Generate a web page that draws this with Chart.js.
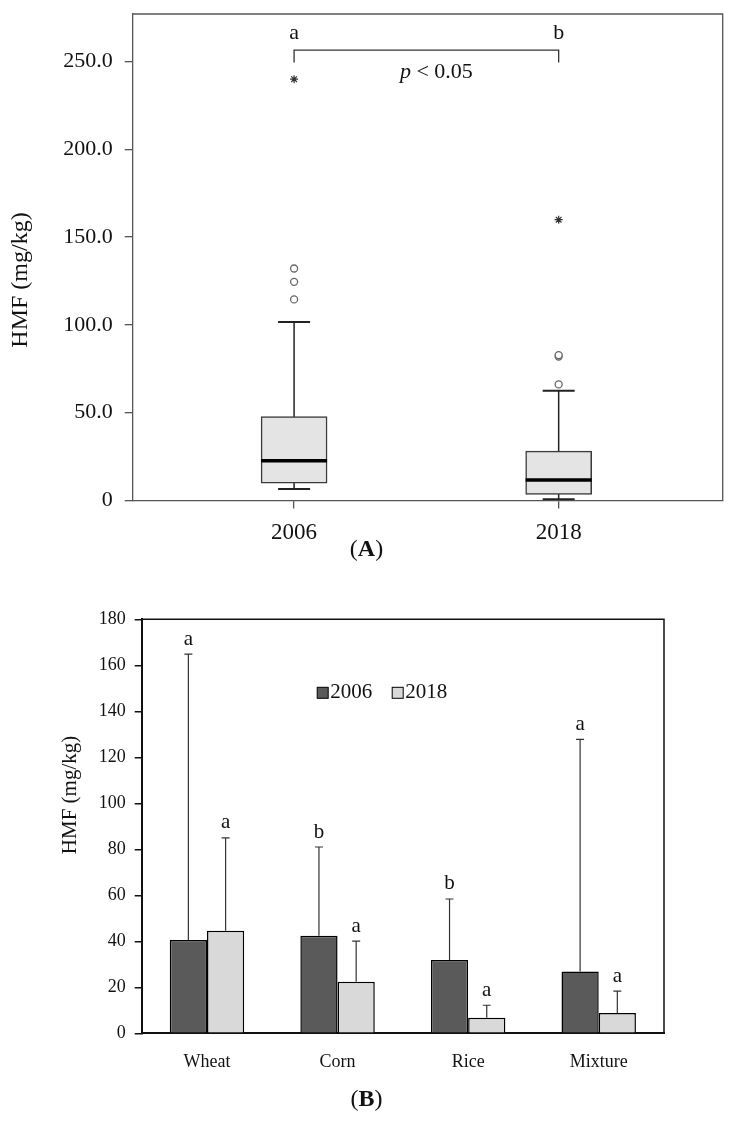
<!DOCTYPE html>
<html>
<head>
<meta charset="utf-8">
<script src="https://cdn.jsdelivr.net/npm/chart.js@4.4.0/dist/chart.umd.min.js"></script>
<style>
  body { margin: 0; background: #fff; width: 733px; height: 1126px; position: relative; overflow: hidden; }
  .wrap { position: absolute; left: 0; }
  .cap { position: absolute; left: 0; width: 733px; text-align: center; color: #111;
         font-family: "Liberation Serif", "Times New Roman", serif; font-size: 24px; line-height: 28px; }
</style>
</head>
<body>
<div class="wrap" style="top:0"><canvas id="boxChart" width="733" height="545"></canvas></div>
<div class="cap" style="top:534px">(<b>A</b>)</div>
<div class="wrap" style="top:560px"><canvas id="barChart" width="733" height="525"></canvas></div>
<div class="cap" style="top:1084px">(<b>B</b>)</div>
<script>
// --- panel A: box plot by year
const years = ["2006", "2018"];
const whiskerLow = [6.6, 0.7];
const q1 = [9.8, 3.5];
const medians = [22.7, 11.7];
const q3 = [47.8, 28.1];
const whiskerHigh = [101.7, 62.5];
const outliers = [[114.5, 124.5, 132.1], [66.1, 82.0, 82.8]];
const extremes = [[239.9], [159.9]];
const yearLetters = ["a", "b"];
const bracketLow = 249.4;
const bracketHigh = 256.4;
const yTicksA = [0, 50, 100, 150, 200, 250];
const yLabelsA = ["0", "50.0", "100.0", "150.0", "200.0", "250.0"];

// --- panel B: mean + SD by grain
const grains = ["Wheat", "Corn", "Rice", "Mixture"];
const mean2006 = [40.6, 42.4, 31.9, 26.9];
const sd2006 = [124.3, 38.6, 26.5, 100.9];
const mean2018 = [44.6, 22.4, 6.8, 8.8];
const sd2018 = [40.4, 17.7, 5.4, 9.5];
const letters2006 = ["a", "b", "b", "a"];
const letters2018 = ["a", "a", "a", "a"];
const yTicksB = [0, 20, 40, 60, 80, 100, 120, 140, 160, 180];

const serif = '"Liberation Serif", "Times New Roman", serif';
Chart.defaults.font.family = serif;
Chart.defaults.color = "#111";

const pos = years.map((y, i) => i + 1);

function frame(color, width) {
    return {
        id: "frame",
        afterDraw(chart) {
            const a = chart.chartArea, ctx = chart.ctx;
            ctx.save();
            ctx.strokeStyle = color;
            ctx.lineWidth = width;
            ctx.beginPath();
            ctx.moveTo(a.left, a.top);
            ctx.lineTo(a.right, a.top);
            ctx.lineTo(a.right, a.bottom);
            ctx.stroke();
            ctx.restore();
        }
    };
}

function yTitle(x, y, size) {
    return {
        id: "yTitle",
        afterDraw(chart) {
            const ctx = chart.ctx;
            ctx.save();
            ctx.translate(x, y);
            ctx.rotate(-Math.PI / 2);
            ctx.font = size + "px " + serif;
            ctx.fillStyle = "#111";
            ctx.textAlign = "center";
            ctx.textBaseline = "middle";
            ctx.fillText("HMF (mg/kg)", 0, 0);
            ctx.restore();
        }
    };
}

const boxNotes = {
    id: "boxNotes",
    afterDraw(chart) {
        const ctx = chart.ctx, xs = chart.scales.x, ys = chart.scales.y;
        ctx.save();
        ctx.fillStyle = "#111";
        ctx.textAlign = "center";
        ctx.textBaseline = "middle";
        ctx.font = "22px " + serif;
        yearLetters.forEach((t, i) => {
            ctx.fillText(t, xs.getPixelForValue(pos[i]), ys.getPixelForValue(bracketHigh) - 17);
        });
        // p < 0.05
        const cx = (xs.getPixelForValue(pos[0]) + xs.getPixelForValue(pos[1])) / 2 + 10;
        const cy = ys.getPixelForValue(bracketLow) + 10;
        ctx.font = "italic 22px " + serif;
        const w1 = ctx.measureText("p").width;
        ctx.font = "22px " + serif;
        const w2 = ctx.measureText(" < 0.05").width;
        const x0 = cx - (w1 + w2) / 2;
        ctx.textAlign = "left";
        ctx.font = "italic 22px " + serif;
        ctx.fillText("p", x0, cy);
        ctx.font = "22px " + serif;
        ctx.fillText(" < 0.05", x0 + w1, cy);
        ctx.restore();
    }
};

const whiskerSets = years.map((y, i) => ({
    type: "line",
    data: [{ x: pos[i], y: whiskerLow[i] }, { x: pos[i], y: whiskerHigh[i] }],
    borderColor: "#222",
    borderWidth: 1.5,
    pointRadius: 0,
    order: 6
}));

new Chart(document.getElementById("boxChart"), {
    type: "scatter",
    data: {
        datasets: [
            ...whiskerSets,
            {
                type: "scatter",
                data: pos.flatMap((p, i) => [{ x: p, y: whiskerLow[i] }, { x: p, y: whiskerHigh[i] }]),
                pointStyle: "line",
                pointRadius: 16,
                pointBorderColor: "#222",
                pointBorderWidth: 2,
                order: 5
            },
            {
                type: "bar",
                data: pos.map((p, i) => ({ x: p, y: [q1[i], q3[i]] })),
                backgroundColor: "#e4e4e4",
                borderColor: "#3a3a3a",
                borderWidth: 1.5,
                borderSkipped: false,
                barThickness: 66,
                order: 4
            },
            {
                type: "scatter",
                data: pos.map((p, i) => ({ x: p, y: medians[i] })),
                pointStyle: "line",
                pointRadius: 33,
                pointBorderColor: "#000",
                pointBorderWidth: 3.5,
                order: 1
            },
            {
                type: "scatter",
                data: pos.flatMap((p, i) => outliers[i].map(v => ({ x: p, y: v }))),
                pointStyle: "circle",
                pointRadius: 3.5,
                pointBackgroundColor: "#fff",
                pointBorderColor: "#666",
                pointBorderWidth: 1.3,
                order: 2
            },
            {
                type: "scatter",
                data: pos.flatMap((p, i) => extremes[i].map(v => ({ x: p, y: v }))),
                pointStyle: "star",
                pointRadius: 4,
                pointBorderColor: "#333",
                pointBorderWidth: 1.2,
                order: 2
            },
            {
                type: "line",
                data: [
                    { x: pos[0], y: bracketLow }, { x: pos[0], y: bracketHigh },
                    { x: pos[1], y: bracketHigh }, { x: pos[1], y: bracketLow }
                ],
                borderColor: "#333",
                borderWidth: 1.3,
                pointRadius: 0,
                order: 3
            }
        ]
    },
    options: {
        responsive: false,
        animation: false,
        events: [],
        layout: { autoPadding: false, padding: { top: 14, right: 10.3, left: 0, bottom: 0 } },
        plugins: { legend: { display: false }, tooltip: { enabled: false } },
        scales: {
            x: {
                type: "linear",
                min: 0.39,
                max: 2.62,
                offset: false,
                afterBuildTicks: s => { s.ticks = pos.map(v => ({ value: v })); },
                afterFit: s => { s.height = 44.5; },
                grid: { drawOnChartArea: false, offset: false, tickLength: 8, color: "#555", lineWidth: 1.3 },
                border: { color: "#555", width: 1.3 },
                ticks: { callback: (v, i) => years[i], font: { size: 23 }, padding: 11, maxRotation: 0, color: "#111" }
            },
            y: {
                min: 0,
                max: 277,
                afterBuildTicks: s => { s.ticks = yTicksA.map(v => ({ value: v })); },
                afterFit: s => { s.width = 132.7; s.paddingTop = 0; s.paddingBottom = 0; },
                grid: { drawOnChartArea: false, tickLength: 8, color: "#555", lineWidth: 1.3 },
                border: { color: "#555", width: 1.3 },
                ticks: { callback: (v, i) => yLabelsA[i], font: { size: 22 }, padding: 12, color: "#111" }
            }
        }
    },
    plugins: [frame("#555", 1.3), boxNotes, yTitle(21, 280, 24)]
});

// --- panel B
const sdSets = [sd2006, sd2018];
const letterSets = [letters2006, letters2018];

const barNotes = {
    id: "barNotes",
    afterDatasetsDraw(chart) {
        const ctx = chart.ctx, ys = chart.scales.y;
        ctx.save();
        chart.data.datasets.forEach((ds, di) => {
            chart.getDatasetMeta(di).data.forEach((bar, i) => {
                const top = ys.getPixelForValue(ds.data[i] + sdSets[di][i]);
                ctx.strokeStyle = "#333";
                ctx.lineWidth = 1.2;
                ctx.beginPath();
                ctx.moveTo(bar.x, bar.y);
                ctx.lineTo(bar.x, top);
                ctx.moveTo(bar.x - 4, top);
                ctx.lineTo(bar.x + 4, top);
                ctx.stroke();
                ctx.fillStyle = "#111";
                ctx.font = "21px " + serif;
                ctx.textAlign = "center";
                ctx.textBaseline = "middle";
                ctx.fillText(letterSets[di][i], bar.x, top - 15);
            });
        });
        // legend inside the plot
        const a = chart.chartArea;
        let x = a.left + 175.5;
        const cy = a.top + 73.5;
        ctx.font = "21px " + serif;
        ctx.textAlign = "left";
        ctx.textBaseline = "middle";
        chart.data.datasets.forEach(ds => {
            ctx.fillStyle = ds.backgroundColor;
            ctx.fillRect(x, cy - 5.5, 11, 11);
            ctx.strokeStyle = "#000";
            ctx.lineWidth = 1;
            ctx.strokeRect(x, cy - 5.5, 11, 11);
            ctx.fillStyle = "#111";
            ctx.fillText(ds.label, x + 13, cy);
            x += 13 + ctx.measureText(ds.label).width + 20;
        });
        ctx.restore();
    }
};

new Chart(document.getElementById("barChart"), {
    type: "bar",
    data: {
        labels: grains,
        datasets: [
            {
                label: "2006",
                data: mean2006,
                backgroundColor: "#5a5a5a",
                borderColor: "#000",
                borderWidth: 1.5,
                categoryPercentage: 0.57,
                barPercentage: 1
            },
            {
                label: "2018",
                data: mean2018,
                backgroundColor: "#d9d9d9",
                borderColor: "#000",
                borderWidth: 1.5,
                categoryPercentage: 0.57,
                barPercentage: 1
            }
        ]
    },
    options: {
        responsive: false,
        animation: false,
        events: [],
        layout: { autoPadding: false, padding: { top: 59.3, right: 69, left: 0, bottom: 0 } },
        plugins: { legend: { display: false }, tooltip: { enabled: false } },
        scales: {
            x: {
                afterFit: s => { s.height = 51.7; },
                grid: { display: false },
                border: { color: "#111", width: 2 },
                ticks: { font: { size: 18 }, padding: 10, color: "#111" }
            },
            y: {
                min: 0,
                max: 180,
                afterBuildTicks: s => { s.ticks = yTicksB.map(v => ({ value: v })); },
                afterFit: s => { s.width = 141.7; },
                grid: { drawOnChartArea: false, tickLength: 7, color: "#111", lineWidth: 1.5 },
                border: { color: "#111", width: 2 },
                ticks: { font: { size: 18 }, padding: 9, color: "#111" }
            }
        }
    },
    plugins: [frame("#111", 1.5), barNotes, yTitle(70, 235, 21)]
});
</script>
</body>
</html>
